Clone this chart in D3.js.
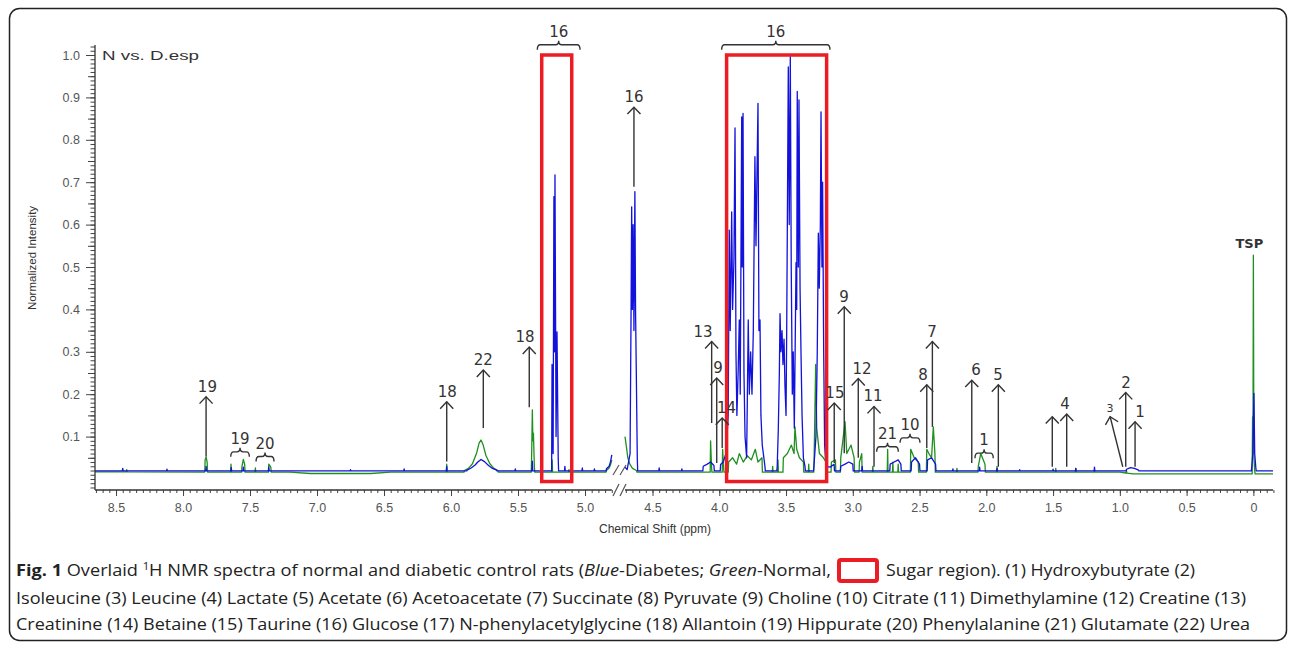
<!DOCTYPE html>
<html>
<head>
<meta charset="utf-8">
<script src="https://cdn.jsdelivr.net/npm/d3@7"></script>
<style>
  html, body { margin: 0; padding: 0; background: #fff; }
  svg { display: block; }
  .axis text { font-family: "Liberation Sans", Arial, sans-serif; fill: #555; }
  .axis line { stroke: #444; }
  .note { font-family: "DejaVu Sans", Verdana, sans-serif; fill: #333; }
</style>
</head>
<body>
<svg id="chart" width="1295" height="647"></svg>
<script>
// tick labels (ppm) on both sides of the water break, and intensity ticks
var xTicksLeft = [8.5, 8.0, 7.5, 7.0, 6.5, 6.0, 5.5, 5.0];
var xTicksRight = [4.5, 4.0, 3.5, 3.0, 2.5, 2.0, 1.5, 1.0, 0.5, 0];
var yTicks = [0.1, 0.2, 0.3, 0.4, 0.5, 0.6, 0.7, 0.8, 0.9, 1.0];

// baseline anchors [ppm, intensity]
var blueBase = [[8.657, 0.019], [-0.147, 0.019]];
var greenBase = [[8.657, 0.017], [7.2, 0.016], [7.05, 0.013], [6.6, 0.013], [6.45, 0.016],
                 [1.0, 0.016], [0.9, 0.012], [-0.147, 0.012]];

// Blue - Diabetes: peaks / valleys [ppm, normalized intensity]
var bluePeaks = [
  [8.45, 0.025], [8.12, 0.023], [7.828, 0.03], [7.64, 0.027], [7.55, 0.028], [7.36, 0.028],
  [6.75, 0.022], [6.35, 0.024], [6.032, 0.03],
  [5.88, 0.021], [5.85, 0.026], [5.82, 0.033], [5.80, 0.04], [5.776, 0.046], [5.75, 0.041],
  [5.72, 0.032], [5.69, 0.025], [5.66, 0.021],
  [5.52, 0.024], [5.393, 0.042],
  [5.246, 0.27], [5.238, 0.06], [5.232, 0.666], [5.228, 0.3], [5.224, 0.717], [5.216, 0.1],
  [5.209, 0.347], [5.200, 0.05],
  [5.15, 0.03], [5.02, 0.026], [4.93, 0.024],
  [4.84, 0.024], [4.82, 0.03], [4.81, 0.04], [4.80, 0.057],
  [4.706, 0.028], [4.69, 0.022],
  [4.668, 0.06], [4.661, 0.375], [4.656, 0.642], [4.651, 0.4], [4.645, 0.6], [4.639, 0.35],
  [4.632, 0.678], [4.627, 0.4], [4.622, 0.269], [4.614, 0.05],
  [4.45, 0.026], [4.28, 0.024], [4.12, 0.03], [4.09, 0.035], [4.065, 0.04], [4.04, 0.032],
  [3.99, 0.034], [3.97, 0.04], [3.95, 0.06],
  [3.933, 0.15], [3.925, 0.587], [3.918, 0.35], [3.907, 0.63], [3.900, 0.4], [3.890, 0.52],
  [3.882, 0.828], [3.875, 0.3], [3.868, 0.15], [3.858, 0.26], [3.850, 0.375], [3.843, 0.2],
  [3.832, 0.854], [3.828, 0.5], [3.822, 0.862], [3.815, 0.25], [3.807, 0.1], [3.795, 0.05],
  [3.783, 0.375], [3.775, 0.2], [3.765, 0.3], [3.755, 0.2], [3.745, 0.35], [3.733, 0.76],
  [3.725, 0.55], [3.718, 0.709], [3.710, 0.886], [3.703, 0.35], [3.695, 0.375], [3.688, 0.15],
  [3.678, 0.08], [3.658, 0.03],
  [3.566, 0.03], [3.558, 0.115], [3.550, 0.25], [3.545, 0.39], [3.538, 0.3], [3.530, 0.35],
  [3.523, 0.27], [3.515, 0.33], [3.508, 0.22], [3.500, 0.15], [3.495, 0.35], [3.483, 0.972],
  [3.476, 0.6], [3.468, 0.996], [3.461, 0.5], [3.453, 0.2], [3.446, 0.3], [3.438, 0.12],
  [3.425, 0.51], [3.420, 0.4], [3.416, 0.914], [3.408, 0.5], [3.403, 0.894], [3.395, 0.45],
  [3.388, 0.3], [3.380, 0.15], [3.370, 0.05], [3.358, 0.03],
  [3.291, 0.03], [3.276, 0.1], [3.266, 0.3], [3.258, 0.58], [3.251, 0.45], [3.243, 0.6],
  [3.238, 0.866], [3.231, 0.5], [3.226, 0.70], [3.218, 0.3], [3.211, 0.08], [3.201, 0.03],
  [3.17, 0.028], [3.14, 0.035], [3.09, 0.03], [3.058, 0.035], [3.03, 0.04], [3.00, 0.035],
  [2.93, 0.03], [2.72, 0.035], [2.69, 0.04], [2.66, 0.045], [2.64, 0.035], [2.56, 0.04],
  [2.53, 0.05], [2.50, 0.035], [2.44, 0.045], [2.41, 0.05], [2.38, 0.035], [2.25, 0.024],
  [2.05, 0.028], [1.92, 0.025], [1.75, 0.022], [1.5, 0.023], [1.33, 0.025], [1.19, 0.028],
  [0.95, 0.023], [0.92, 0.027], [0.89, 0.025], [0.86, 0.021],
  [0.012, 0.03], [0.004, 0.06], [-0.004, 0.202], [-0.01, 0.06], [-0.018, 0.028]
];

// Green - Normal
var greenPeaks = [
  [8.42, 0.022], [7.835, 0.045], [7.828, 0.052], [7.82, 0.04], [7.642, 0.035],
  [7.56, 0.03], [7.55, 0.046], [7.54, 0.035], [7.46, 0.026], [7.36, 0.035], [7.345, 0.028],
  [6.032, 0.035],
  [5.90, 0.02], [5.87, 0.025], [5.84, 0.036], [5.81, 0.06], [5.79, 0.085], [5.776, 0.092],
  [5.76, 0.08], [5.74, 0.056], [5.71, 0.036], [5.68, 0.025], [5.65, 0.02],
  [5.398, 0.06], [5.393, 0.163], [5.389, 0.09], [5.385, 0.108], [5.378, 0.03],
  [5.245, 0.045], [5.12, 0.022],
  [4.84, 0.02], [4.82, 0.026], [4.81, 0.033], [4.80, 0.045],
  [4.706, 0.10], [4.695, 0.075], [4.685, 0.05], [4.67, 0.035], [4.65, 0.025], [4.62, 0.02],
  [4.065, 0.09], [4.058, 0.03], [3.975, 0.07], [3.968, 0.03],
  [3.93, 0.04], [3.90, 0.05], [3.87, 0.035], [3.85, 0.06], [3.82, 0.04], [3.79, 0.055],
  [3.76, 0.045], [3.73, 0.07], [3.71, 0.04], [3.68, 0.05], [3.60, 0.03], [3.56, 0.045],
  [3.52, 0.05], [3.49, 0.06], [3.46, 0.08], [3.44, 0.06], [3.433, 0.123], [3.42, 0.07],
  [3.40, 0.05], [3.37, 0.04], [3.33, 0.035], [3.29, 0.04], [3.278, 0.27], [3.27, 0.12],
  [3.25, 0.06], [3.22, 0.05], [3.20, 0.04],
  [3.16, 0.04], [3.13, 0.045], [3.09, 0.05], [3.058, 0.135], [3.045, 0.06], [3.013, 0.08],
  [2.99, 0.05], [2.95, 0.04], [2.933, 0.06], [2.85, 0.03], [2.739, 0.07], [2.70, 0.04],
  [2.66, 0.035], [2.566, 0.07], [2.54, 0.05], [2.51, 0.04], [2.446, 0.07], [2.43, 0.06],
  [2.41, 0.05], [2.397, 0.123], [2.385, 0.06], [2.22, 0.025], [2.06, 0.03], [2.042, 0.06],
  [2.01, 0.035], [1.92, 0.03], [1.48, 0.025], [1.33, 0.025], [1.19, 0.02], [0.95, 0.02],
  [0.006, 0.147], [0.003, 0.06], [0.0, 0.528], [-0.004, 0.05], [-0.01, 0.02]
];

// arrows: label, tip ppm, tip intensity, tail ppm, tail intensity, label ppm
var arrows = [
  ["19", 7.828, 0.194, 7.828, 0.053, 7.818],
  ["18", 6.032, 0.182, 6.032, 0.041, 6.028],
  ["22", 5.759, 0.257, 5.759, 0.12, 5.759],
  ["18", 5.416, 0.311, 5.416, 0.169, 5.448],
  ["16", 4.639, 0.877, 4.639, 0.689, 4.639],
  ["13", 4.057, 0.324, 4.057, 0.132, 4.122],
  ["9", 4.019, 0.238, 4.019, 0.038, 4.010],
  ["14", 3.978, 0.144, 3.978, 0.073, 3.945],
  ["15", 3.139, 0.179, 3.139, 0.038, 3.134],
  ["9", 3.064, 0.406, 3.064, 0.061, 3.066],
  ["12", 2.959, 0.237, 2.959, 0.05, 2.931],
  ["11", 2.841, 0.171, 2.841, 0.029, 2.849],
  ["8", 2.446, 0.222, 2.446, 0.073, 2.474],
  ["7", 2.404, 0.324, 2.404, 0.123, 2.407],
  ["6", 2.109, 0.233, 2.109, 0.038, 2.077],
  ["5", 1.910, 0.222, 1.910, 0.029, 1.912],
  ["", 1.506, 0.147, 1.506, 0.029, 1.506],
  ["4", 1.398, 0.153, 1.398, 0.029, 1.410],
  ["3", 1.073, 0.147, 0.978, 0.029, 1.073],
  ["2", 0.956, 0.204, 0.956, 0.029, 0.954],
  ["1", 0.886, 0.135, 0.886, 0.029, 0.849]
];

// brackets: label, from ppm, to ppm, intensity
var brackets = [
  ["19", 7.644, 7.505, 0.064],
  ["20", 7.455, 7.321, 0.053],
  ["21", 2.821, 2.659, 0.076],
  ["10", 2.646, 2.497, 0.097],
  ["1", 2.085, 1.948, 0.061],
  ["16", 5.356, 5.037, 1.024],
  ["16", 3.982, 3.171, 1.024]
];

// sugar regions: from ppm, to ppm, top, bottom
var sugarBoxes = [[5.323, 5.099, 1.0, -0.006], [3.945, 3.196, 1.0, -0.006]];

var svg = d3.select("#chart");
var xLeft = d3.scaleLinear().domain([8.657, 4.80]).range([95, 611.8]);
var xRight = d3.scaleLinear().domain([4.706, -0.147]).range([625, 1273]);
var y = d3.scaleLinear().domain([0, 1]).range([479, 55]);
var axisY = 490;
function xOf(p) { return p >= 4.75 ? xLeft(p) : xRight(p); }

// frame
svg.append("rect")
    .attr("x", 9.5).attr("y", 8.5).attr("width", 1277).attr("height", 632).attr("rx", 10)
    .attr("fill", "none").attr("stroke", "#222").attr("stroke-width", 1.5);

// spikes rise from the baseline, close neighbours are joined directly
function buildTrace(peaks, base) {
    var baseAt = d3.scaleLinear().domain(base.map(function(d) { return d[0]; }))
        .range(base.map(function(d) { return d[1]; }));
    var gap = 0.035, half = 0.003;
    var pts = peaks.map(function(d) { return {p: d[0], v: d[1], peak: true}; })
        .concat(base.map(function(d) { return {p: d[0], v: d[1], peak: false}; }))
        .sort(function(a, b) { return b.p - a.p; });
    var out = [];
    pts.forEach(function(d, i) {
        var prev = pts[i - 1], next = pts[i + 1];
        if (d.peak && (!prev || !prev.peak || prev.p - d.p > gap)) out.push([d.p + half, baseAt(d.p + half)]);
        out.push([d.p, d.v]);
        if (d.peak && (!next || !next.peak || d.p - next.p > gap)) out.push([d.p - half, baseAt(d.p - half)]);
    });
    return out;
}

function drawTrace(trace, color) {
    var left = trace.filter(function(d) { return d[0] >= 4.7999 && d[0] <= 8.657; });
    var right = trace.filter(function(d) { return d[0] <= 4.7061 && d[0] >= -0.147; });
    [[left, xLeft], [right, xRight]].forEach(function(s) {
        var line = d3.line().x(function(d) { return s[1](d[0]); }).y(function(d) { return y(d[1]); });
        svg.append("path").datum(s[0]).attr("d", line)
            .attr("fill", "none").attr("stroke", color).attr("stroke-width", 1.3)
            .attr("stroke-linejoin", "round");
    });
}

drawTrace(buildTrace(greenPeaks, greenBase), "#1f8f1f");
drawTrace(buildTrace(bluePeaks, blueBase), "#1212dc");

// x axes
function fmtX(d) { return d === 0 ? "0" : d.toFixed(1); }
function drawX(scale, major, minor) {
    var gMinor = svg.append("g").attr("class", "axis").attr("transform", "translate(0," + axisY + ")")
        .call(d3.axisBottom(scale).tickValues(minor).tickSize(3).tickFormat(""));
    var gMajor = svg.append("g").attr("class", "axis").attr("transform", "translate(0," + axisY + ")")
        .call(d3.axisBottom(scale).tickValues(major).tickSize(6).tickPadding(7).tickFormat(fmtX));
    gMajor.selectAll("text").attr("font-size", 12.5);
    [gMinor, gMajor].forEach(function(g) { g.select(".domain").remove(); });
    svg.append("line").attr("x1", scale.range()[0]).attr("x2", scale.range()[1])
        .attr("y1", axisY).attr("y2", axisY).attr("stroke", "#333").attr("stroke-width", 1.3);
}
drawX(xLeft, xTicksLeft, d3.range(96, 174).map(function(i) { return i * 0.05; }));
drawX(xRight, xTicksRight, d3.range(-3, 95).map(function(i) { return i * 0.05; }));

// break marks
[[465, 475], [484, 496]].forEach(function(r) {
    [613, 620].forEach(function(x0) {
        svg.append("line").attr("x1", x0).attr("y1", r[1]).attr("x2", x0 + 6).attr("y2", r[0])
            .attr("stroke", "#555").attr("stroke-width", 1.2);
    });
});

// y axis
var gyMinor = svg.append("g").attr("class", "axis").attr("transform", "translate(95,0)")
    .call(d3.axisLeft(y).tickValues(d3.range(-2, 103).map(function(i) { return i / 100; }))
        .tickSize(4.5).tickFormat(""));
var gyMid = svg.append("g").attr("class", "axis").attr("transform", "translate(95,0)")
    .call(d3.axisLeft(y).tickValues(d3.range(0, 10).map(function(i) { return i / 10 + 0.05; }))
        .tickSize(7).tickFormat(""));
var gyMajor = svg.append("g").attr("class", "axis").attr("transform", "translate(95,0)")
    .call(d3.axisLeft(y).tickValues(yTicks).tickSize(9).tickPadding(6).tickFormat(d3.format(".1f")));
gyMajor.selectAll("text").attr("font-size", 12.5);
[gyMinor, gyMid, gyMajor].forEach(function(g) { g.select(".domain").remove(); });
svg.append("line").attr("x1", 95).attr("x2", 95).attr("y1", 45).attr("y2", axisY)
    .attr("stroke", "#333").attr("stroke-width", 1.3);

svg.append("text").attr("transform", "translate(36,258) rotate(-90)").attr("text-anchor", "middle")
    .attr("font-family", "Liberation Sans, Arial, sans-serif").attr("font-size", 11.5).attr("fill", "#333")
    .text("Normalized Intensity");
svg.append("text").attr("x", 655).attr("y", 533).attr("text-anchor", "middle")
    .attr("font-family", "Liberation Sans, Arial, sans-serif").attr("font-size", 12).attr("fill", "#333")
    .text("Chemical Shift (ppm)");
svg.append("text").attr("x", 102).attr("y", 60).attr("textLength", 97).attr("lengthAdjust", "spacingAndGlyphs")
    .attr("font-family", "Liberation Sans, Arial, sans-serif").attr("font-size", 12).attr("fill", "#333")
    .text("N vs. D.esp");
svg.append("text").attr("class", "note").attr("x", xRight(0) - 4).attr("y", 248)
    .attr("text-anchor", "middle").attr("font-size", 13).attr("font-weight", "bold").attr("fill", "#555")
    .text("TSP");

// sugar boxes
sugarBoxes.forEach(function(b) {
    var x0 = xOf(b[0]), x1 = xOf(b[1]);
    svg.append("rect").attr("x", x0).attr("y", y(b[2])).attr("width", x1 - x0)
        .attr("height", y(b[3]) - y(b[2]))
        .attr("fill", "none").attr("stroke", "#ec1c24").attr("stroke-width", 3.5);
});

// arrows
var ann = svg.append("g").attr("stroke", "#333").attr("stroke-width", 1.4).attr("fill", "none");
arrows.forEach(function(a) {
    var xt = xOf(a[1]), yt = y(a[2]), xb = xOf(a[3]), yb = y(a[4]);
    ann.append("line").attr("x1", xb).attr("y1", yb).attr("x2", xt).attr("y2", yt);
    var ang = Math.atan2(yb - yt, xb - xt), spread = 0.76, len = 9.5;
    ann.append("path").attr("d",
        "M" + (xt + len * Math.cos(ang + spread)) + "," + (yt + len * Math.sin(ang + spread)) +
        "L" + xt + "," + yt +
        "L" + (xt + len * Math.cos(ang - spread)) + "," + (yt + len * Math.sin(ang - spread)));
    if (a[0]) {
        svg.append("text").attr("class", "note").attr("x", xOf(a[5])).attr("y", yt - 5)
            .attr("text-anchor", "middle").attr("font-size", a[0] === "3" ? 11 : 15).text(a[0]);
    }
});

// brackets
brackets.forEach(function(b) {
    var xa = xOf(b[1]), xb = xOf(b[2]), yb = y(b[3]), xm = (xa + xb) / 2;
    ann.append("path").attr("d",
        "M" + xa + "," + (yb + 5) + "Q" + xa + "," + yb + " " + (xa + 3) + "," + yb +
        "L" + (xm - 3) + "," + yb + "Q" + xm + "," + yb + " " + xm + "," + (yb - 4) +
        "Q" + xm + "," + yb + " " + (xm + 3) + "," + yb +
        "L" + (xb - 3) + "," + yb + "Q" + xb + "," + yb + " " + xb + "," + (yb + 5));
    svg.append("text").attr("class", "note").attr("x", xm).attr("y", yb - 8)
        .attr("text-anchor", "middle").attr("font-size", 15).text(b[0]);
});

// caption
var cap = svg.append("g").attr("font-family", "'Open Sans', 'Noto Sans', sans-serif")
    .attr("font-size", 16).attr("fill", "#222");
var l1 = cap.append("text").attr("x", 16).attr("y", 576).attr("textLength", 815)
    .attr("lengthAdjust", "spacingAndGlyphs");
l1.append("tspan").attr("font-weight", "bold").text("Fig. 1");
l1.append("tspan").text(" Overlaid ");
l1.append("tspan").attr("font-size", 10).attr("dy", -6).text("1");
l1.append("tspan").attr("dy", 6).text("H NMR spectra of normal and diabetic control rats (");
l1.append("tspan").attr("font-style", "italic").text("Blue");
l1.append("tspan").text("-Diabetes; ");
l1.append("tspan").attr("font-style", "italic").text("Green");
l1.append("tspan").text("-Normal,");
cap.append("rect").attr("x", 839).attr("y", 560).attr("width", 38).attr("height", 21).attr("rx", 2)
    .attr("fill", "none").attr("stroke", "#ec1c24").attr("stroke-width", 4);
cap.append("text").attr("x", 886).attr("y", 576).attr("textLength", 309).attr("lengthAdjust", "spacingAndGlyphs")
    .text("Sugar region). (1) Hydroxybutyrate (2)");
cap.append("text").attr("x", 16).attr("y", 604).attr("textLength", 1230).attr("lengthAdjust", "spacingAndGlyphs")
    .text("Isoleucine (3) Leucine (4) Lactate (5) Acetate (6) Acetoacetate (7) Succinate (8) Pyruvate (9) Choline (10) Citrate (11) Dimethylamine (12) Creatine (13)");
cap.append("text").attr("x", 16).attr("y", 630).attr("textLength", 1234).attr("lengthAdjust", "spacingAndGlyphs")
    .text("Creatinine (14) Betaine (15) Taurine (16) Glucose (17) N-phenylacetylglycine (18) Allantoin (19) Hippurate (20) Phenylalanine (21) Glutamate (22) Urea");
</script>
</body>
</html>
